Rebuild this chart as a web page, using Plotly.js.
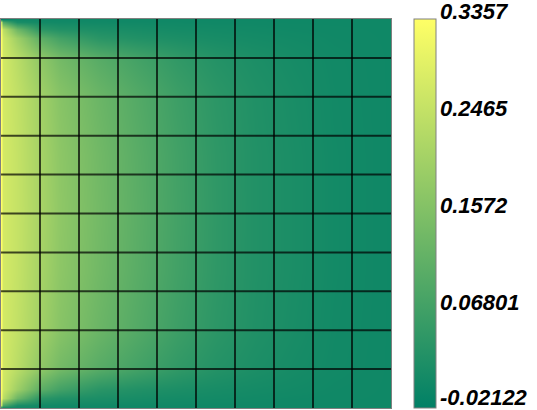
<!DOCTYPE html>
<html>
<head>
<meta charset="utf-8">
<script src="https://cdn.plot.ly/plotly-3.0.1.min.js"></script>
<style>
  html, body { margin: 0; padding: 0; background: #fff; }
  #plot { width: 537px; height: 410px; }
</style>
</head>
<body>
<div id="plot"></div>
<script>
// sample positions of the field (mesh units, 10 x 10 cells)
var xs = [0, 0.05, 0.4, 1, 1.5, 2.5, 3.5, 4.5, 5.5, 6.5, 7.5, 8.5, 10];
var ys = [0, 0.08, 0.25, 0.5, 1, 2, 3.5, 5, 6.5, 8, 9, 9.5, 9.75, 9.92, 10];

// field values, one row per ys entry (bottom to top)
var zRows = [
  [-0.021, -0.012, -0.002, 0.0, 0.0, 0.0, 0.0, 0.0, 0.0, 0.0, 0.0, 0.0, 0.0],
  [0.26, 0.09, 0.015, 0.006, 0.004, 0.003, 0.002, 0.002, 0.001, 0.001, 0.0, 0.0, 0.0],
  [0.32, 0.24, 0.13, 0.04, 0.025, 0.017, 0.012, 0.008, 0.006, 0.004, 0.002, 0.001, 0.0],
  [0.33, 0.265, 0.2, 0.11, 0.072, 0.037, 0.025, 0.018, 0.012, 0.008, 0.005, 0.002, 0.0],
  [0.335, 0.272, 0.238, 0.18, 0.14, 0.1, 0.072, 0.047, 0.029, 0.018, 0.01, 0.004, 0.0],
  [0.335, 0.274, 0.25, 0.205, 0.168, 0.128, 0.095, 0.064, 0.04, 0.024, 0.014, 0.005, 0.0],
  [0.3357, 0.275, 0.254, 0.212, 0.176, 0.137, 0.103, 0.071, 0.044, 0.026, 0.016, 0.006, 0.0],
  [0.3357, 0.275, 0.255, 0.215, 0.179, 0.14, 0.106, 0.073, 0.045, 0.026, 0.016, 0.006, 0.0],
  [0.3357, 0.275, 0.254, 0.212, 0.176, 0.137, 0.103, 0.071, 0.044, 0.026, 0.016, 0.006, 0.0],
  [0.335, 0.274, 0.25, 0.205, 0.168, 0.128, 0.095, 0.064, 0.04, 0.024, 0.014, 0.005, 0.0],
  [0.335, 0.272, 0.238, 0.18, 0.14, 0.1, 0.072, 0.047, 0.029, 0.018, 0.01, 0.004, 0.0],
  [0.33, 0.265, 0.2, 0.11, 0.072, 0.037, 0.025, 0.018, 0.012, 0.008, 0.005, 0.002, 0.0],
  [0.32, 0.24, 0.13, 0.04, 0.025, 0.017, 0.012, 0.008, 0.006, 0.004, 0.002, 0.001, 0.0],
  [0.26, 0.09, 0.015, 0.006, 0.004, 0.003, 0.002, 0.002, 0.001, 0.001, 0.0, 0.0, 0.0],
  [-0.021, -0.012, -0.002, 0.0, 0.0, 0.0, 0.0, 0.0, 0.0, 0.0, 0.0, 0.0, 0.0]
];

var zMin = -0.02122;
var zMax = 0.3357;
var cbTicks = [-0.02122, 0.06801, 0.1572, 0.2465, 0.3357];
var cbLabels = ['-0.02122', '0.06801', '0.1572', '0.2465', '0.3357'];

// mesh lines
var meshLines = [1, 2, 3, 4, 5, 6, 7, 8, 9];

var field = {
  type: 'heatmap',
  x: xs,
  y: ys,
  z: zRows,
  zmin: zMin,
  zmax: zMax,
  zsmooth: 'best',
  colorscale: [[0, 'rgb(0,128,102)'], [1, 'rgb(255,255,102)']],
  hoverinfo: 'skip',
  colorbar: {
    x: 1.059,
    xanchor: 'left',
    y: 0.5,
    yanchor: 'middle',
    len: 1,
    thickness: 22,
    xpad: 0,
    ypad: 0,
    outlinecolor: '#808080',
    outlinewidth: 1,
    tickmode: 'array',
    tickvals: cbTicks,
    ticks: '',
    showticklabels: false
  }
};

var shapes = [];
meshLines.forEach(function (v) {
  shapes.push({type: 'line', xref: 'x', yref: 'paper', x0: v, x1: v, y0: 0, y1: 1,
    line: {color: 'rgba(0,0,0,0.7)', width: 2}, layer: 'above'});
  shapes.push({type: 'line', xref: 'paper', yref: 'y', x0: 0, x1: 1, y0: v, y1: v,
    line: {color: 'rgba(0,0,0,0.7)', width: 2}, layer: 'above'});
});

// colorbar labels sit just above their tick
var annotations = cbTicks.map(function (v, i) {
  var atBottom = (i === 0);
  return {
    xref: 'paper', yref: 'paper',
    x: 1.126, y: (v - zMin) / (zMax - zMin),
    xanchor: 'left',
    yanchor: atBottom ? 'bottom' : 'middle',
    yshift: atBottom ? -2 : 8,
    showarrow: false,
    borderpad: 0,
    borderwidth: 0,
    text: cbLabels[i],
    font: {family: 'Liberation Sans, Arial, sans-serif', size: 22, color: '#000', weight: 'bold', style: 'italic'}
  };
});

var axis = {
  range: [0, 10],
  showgrid: false,
  zeroline: false,
  showticklabels: false,
  ticks: '',
  showline: true,
  mirror: true,
  linecolor: '#808080',
  linewidth: 1
};

var layout = {
  width: 537,
  height: 410,
  margin: {l: 1, r: 146, t: 19, b: 2, pad: 0},
  paper_bgcolor: '#fff',
  plot_bgcolor: '#fff',
  xaxis: axis,
  yaxis: axis,
  shapes: shapes,
  annotations: annotations,
  showlegend: false
};

Plotly.newPlot('plot', [field], layout, {staticPlot: true});
</script>
</body>
</html>
